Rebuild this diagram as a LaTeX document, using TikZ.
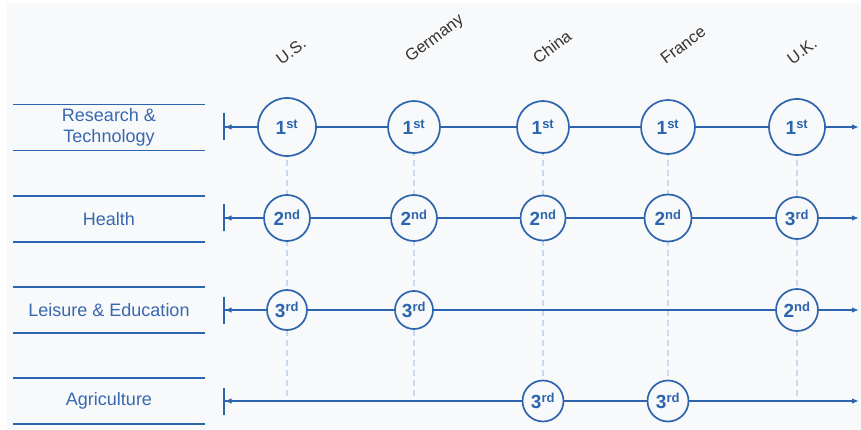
\documentclass[tikz,border=0pt]{standalone}
\usepackage{fontspec}
\setmainfont{Liberation Sans}
\usetikzlibrary{arrows.meta}
\definecolor{mainblue}{HTML}{2D64AE}
\definecolor{labelblue}{HTML}{3868B0}
\definecolor{dashblue}{HTML}{C9DAEE}
\definecolor{panelbg}{HTML}{F8F9FA}
\definecolor{countrygray}{HTML}{333333}
\begin{document}
\begin{tikzpicture}[x=1pt,y=-1pt,
  rank/.style={circle,draw=mainblue,fill=panelbg,line width=1.7pt,inner sep=0pt,
    text=mainblue,font=\bfseries\fontsize{19}{19}\selectfont,minimum size=#1},
  rowline/.style={draw=mainblue,line width=1.5pt,
    {Bar[width=27pt,line width=1.5pt]Latex[length=7pt,width=5.5pt]}-{Latex[length=7pt,width=5.5pt]}},
  sideline/.style={draw=mainblue,line width=1.8pt},
  sidelabel/.style={text=labelblue,font=\fontsize{18}{21}\selectfont,align=center},
  country/.style={text=countrygray,font=\fontsize{16.5}{16.5}\selectfont,rotate=37},
  guide/.style={draw=dashblue,line width=1.2pt,dash pattern=on 6pt off 4pt}]
\newcommand{\rk}[2]{#1\textsuperscript{\fontsize{13}{13}\selectfont #2}}
\useasboundingbox (0,0) rectangle (861,430);
\fill[white] (0,0) rectangle (861,430);
\fill[panelbg] (7,3) rectangle (861,430);

% country labels
\node[country] (lus) at (291,51) {U.S.};
\node[country] (lde) at (435,39) {Germany};
\node[country] (lcn) at (552,47) {China};
\node[country] (lfr) at (683,45) {France};
\node[country] (luk) at (802,51) {U.K.};

% side labels
\foreach \y/\n in {127.5/a,219/b,310/c,401/d}{
  \coordinate (sl\n) at (13,\y-23);
  \coordinate (sr\n) at (205,\y-23);
  \coordinate (tl\n) at (13,\y+23);
  \coordinate (tr\n) at (205,\y+23);
  \draw[sideline] (sl\n) -- (sr\n);
  \draw[sideline] (tl\n) -- (tr\n);
}
\node[sidelabel] (la) at (109,127.5) {Research \&\\Technology};
\node[sidelabel] (lb) at (109,219) {Health};
\node[sidelabel] (lc) at (109,310) {Leisure \& Education};
\node[sidelabel] (ld) at (109,401) {Agriculture};

% row end points
\foreach \y/\n in {127/a,218/b,310/c,401/d}{
  \coordinate (s\n) at (223,\y);
  \coordinate (e\n) at (859,\y);
}
% guides
\foreach \x/\n in {287/us,414/de,543/cn,668/fr,797/uk}{
  \coordinate (gt\n) at (\x,150);
  \coordinate (gb\n) at (\x,401);
  \draw[guide] (gt\n) -- (gb\n);
}

% row lines
\draw[rowline] (sa) -- (ea);
\draw[rowline] (sb) -- (eb);
\draw[rowline] (sc) -- (ec);
\draw[rowline] (sd) -- (ed);

% row 1
\node[rank=58pt] (a1) at (287,127) {\rk{1}{st}};
\node[rank=52pt] (a2) at (414,127) {\rk{1}{st}};
\node[rank=52pt] (a3) at (543,127) {\rk{1}{st}};
\node[rank=54pt] (a4) at (668,127) {\rk{1}{st}};
\node[rank=56pt] (a5) at (797,127) {\rk{1}{st}};

% row 2
\node[rank=46pt] (b1) at (287,218) {\rk{2}{nd}};
\node[rank=46pt] (b2) at (414,218) {\rk{2}{nd}};
\node[rank=45pt] (b3) at (543,218) {\rk{2}{nd}};
\node[rank=47pt] (b4) at (668,218) {\rk{2}{nd}};
\node[rank=42pt] (b5) at (797,218) {\rk{3}{rd}};

% row 3
\node[rank=40pt] (c1) at (287,310) {\rk{3}{rd}};
\node[rank=38pt] (c2) at (414,310) {\rk{3}{rd}};
\node[rank=42pt] (c5) at (797,310) {\rk{2}{nd}};

% row 4
\node[rank=41pt] (d3) at (543,401) {\rk{3}{rd}};
\node[rank=41pt] (d4) at (668,401) {\rk{3}{rd}};
\end{tikzpicture}
\end{document}
